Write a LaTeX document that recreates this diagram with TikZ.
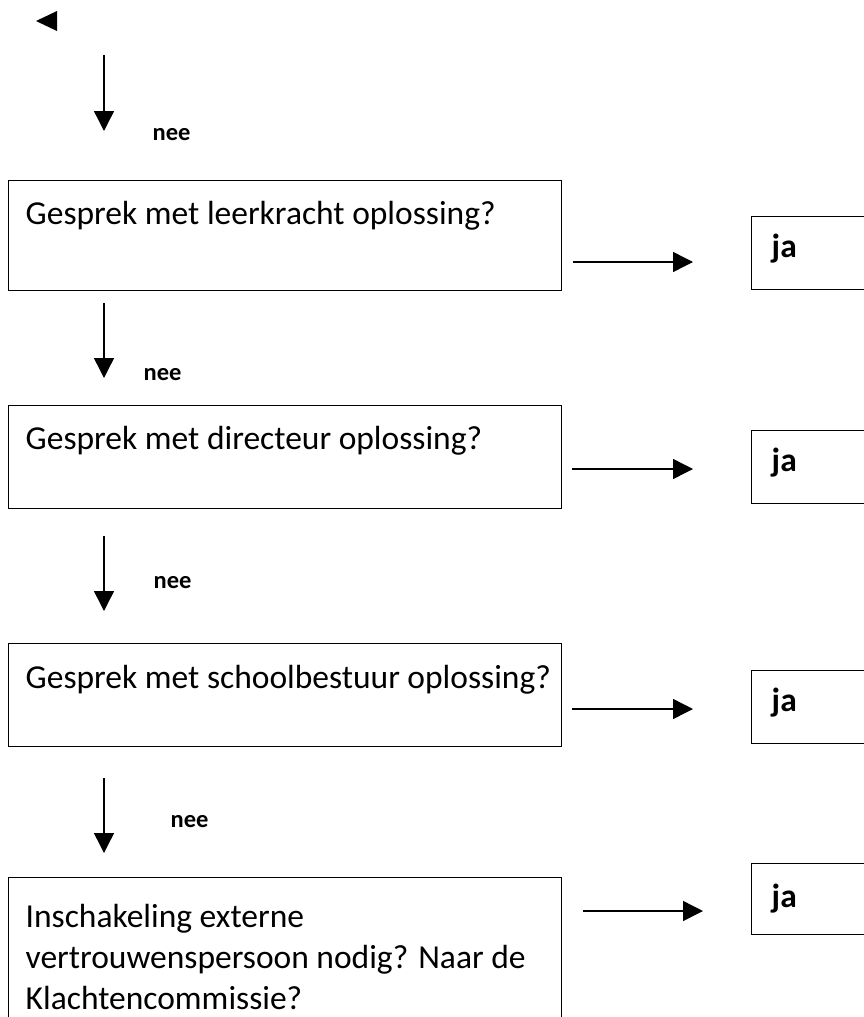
\documentclass[tikz,border=0pt]{standalone}
\usepackage{fontspec}
\setmainfont{Carlito}
\usetikzlibrary{arrows.meta}
\begin{document}
\begin{tikzpicture}[
      x=1pt, y=-1pt,
      line width=1.4pt,
      vraag/.style={draw, rectangle, anchor=north west, text width=519pt, inner xsep=17pt, inner ysep=0pt,
        align=flush left, font=\fontsize{33.5}{41}\selectfont, text height=44pt},
      antwoord/.style={draw, rectangle, anchor=north west, text width=160pt, inner xsep=20pt, inner ysep=0pt,
        align=flush left, font=\fontsize{33.5}{41}\selectfont\bfseries, text height=41pt, text depth=32pt},
      nee/.style={anchor=base west, inner sep=0pt, font=\fontsize{24.5}{29}\selectfont\bfseries},
      pijl/.style={-{Triangle[length=20pt,width=20pt]}}
      ]
      \useasboundingbox (0,0) rectangle (864,1017);
      \clip (0,0) rectangle (864,1017);
      \coordinate (start) at (36,21);
      \fill (start) -- ++(21,-10) -- ++(0,20) -- cycle;

      \node[vraag, text depth=66pt] (vraag1) at (8,180) {Gesprek met leerkracht oplossing?};
      \node[vraag, text depth=59pt] (vraag2) at (8,405) {Gesprek met directeur oplossing?};
      \node[vraag, text depth=58pt, text height=45pt] (vraag3) at (8,643) {\mbox{Gesprek met schoolbestuur oplossing?}};
      \node[vraag, text depth=200pt, text height=50pt] (vraag4) at (8,877)
        {Inschakeling externe\\vertrouwenspersoon nodig? Naar de\\Klachtencommissie?};

      \node[antwoord] (ja1) at (751,216) {ja};
      \node[antwoord] (ja2) at (751,430) {ja};
      \node[antwoord] (ja3) at (751,670) {ja};
      \node[antwoord, text height=44pt, text depth=27pt] (ja4) at (751,863) {ja};

      \coordinate (neer0) at (104,55);
      \draw[pijl] (neer0) -- ([xshift=96pt,yshift=49pt]vraag1.north west);
      \draw[pijl] ([xshift=96pt,yshift=-12pt]vraag1.south west) -- ([xshift=96pt,yshift=27pt]vraag2.north west);
      \draw[pijl] ([xshift=96pt,yshift=-27pt]vraag2.south west) -- ([xshift=96pt,yshift=32pt]vraag3.north west);
      \draw[pijl] ([xshift=96pt,yshift=-31pt]vraag3.south west) -- ([xshift=96pt,yshift=24pt]vraag4.north west);

      \node[nee] (nee1) at (152,140) {nee};
      \node[nee] (nee2) at (143,380) {nee};
      \node[nee] (nee3) at (153,588) {nee};
      \node[nee] (nee4) at (170,827) {nee};

      \coordinate (rechts1) at (573,262);
      \coordinate (rechts2) at (572,469);
      \coordinate (rechts3) at (572,709);
      \coordinate (rechts4) at (583,911);
      \draw[pijl] (rechts1) -- ([xshift=-58pt]ja1.west |- rechts1);
      \draw[pijl] (rechts2) -- ([xshift=-58pt]ja2.west |- rechts2);
      \draw[pijl] (rechts3) -- ([xshift=-58pt]ja3.west |- rechts3);
      \draw[pijl] (rechts4) -- ([xshift=-48pt]ja4.west |- rechts4);
\end{tikzpicture}
\end{document}
